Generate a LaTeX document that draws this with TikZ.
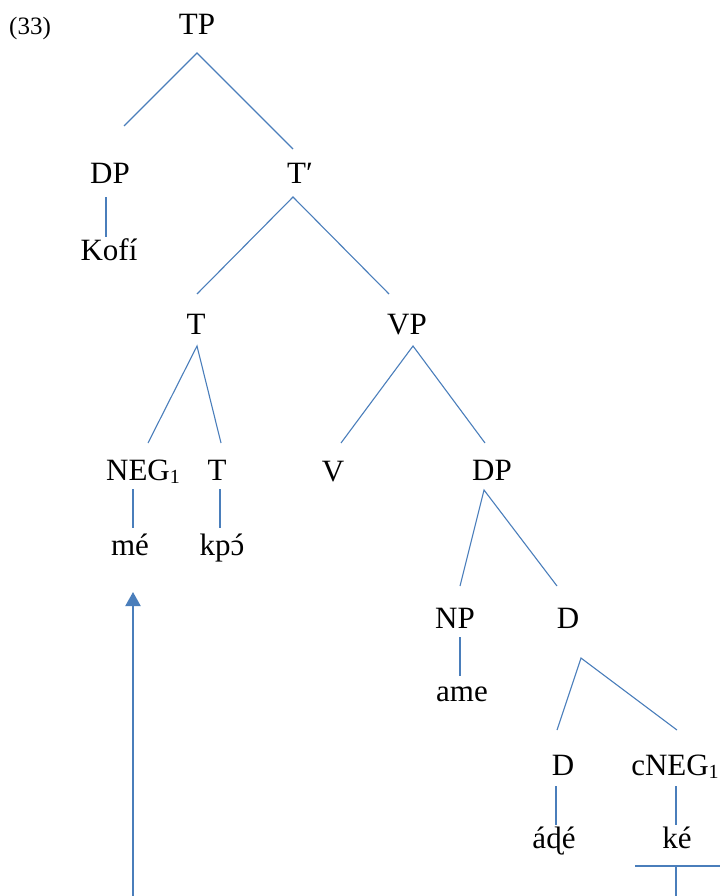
\documentclass[tikz,border=0pt]{standalone}
\usepackage{fontspec}
\setmainfont{Liberation Serif}
\usetikzlibrary{arrows.meta}
\definecolor{treeblue}{HTML}{4A7EBB}
\definecolor{arrowblue}{HTML}{4A7EBB}
\newcommand{\subone}{\raisebox{-0.22ex}{\fontsize{20}{20}\selectfont 1}}
\newcommand{\openoacute}{\ooalign{ɔ\cr\hidewidth\kern0.08em´\hidewidth\cr}}
\begin{document}
\begin{tikzpicture}[x=1pt,y=-1pt,
  lab/.style={anchor=base,inner sep=0pt,font=\fontsize{31}{36}\selectfont},
  exlab/.style={anchor=base,inner sep=0pt,font=\fontsize{25}{30}\selectfont},
  branch/.style={draw=treeblue,line width=1.1pt},
  movearrow/.style={draw=arrowblue,line width=2pt,-{Triangle[width=15pt,length=14pt]}}]
\useasboundingbox (0,0) rectangle (720,896);
% labels
\node[exlab] (ex) at (30,35) {(33)};
\node[lab] (tp) at (197,35) {TP};
\node[lab] (dp1) at (110,184) {DP};
\node[lab] (kofi) at (109,260) {Kofí};
\node[lab] (tbar) at (300,184) {T′};
\node[lab] (t1) at (196,334) {T};
\node[lab] (vp) at (407,334) {VP};
\node[lab] (neg) at (143,480) {NEG\subone};
\node[lab] (t2) at (217,480) {T};
\node[lab] (v) at (333,481) {V};
\node[lab] (dp2) at (492,480) {DP};
\node[lab] (me) at (130,555) {mé};
\node[lab] (kpo) at (222,555) {kp\openoacute};
\node[lab] (np) at (455,628) {NP};
\node[lab] (d1) at (568,628) {D};
\node[lab] (ame) at (462,701) {ame};
\node[lab] (d2) at (563,775) {D};
\node[lab] (cneg) at (675,775) {cNEG\subone};
\node[lab] (ade) at (554,848) {áɖé};
\node[lab] (ke) at (677,848) {ké};
% branch end points
\coordinate (tpA) at (197,53);
\coordinate (tpL) at (124,126);
\coordinate (tpR) at (293,149);
\coordinate (dpA) at (106,197);
\coordinate (dpB) at (106,237);
\coordinate (tbA) at (293,197);
\coordinate (tbL) at (197,294);
\coordinate (tbR) at (389,294);
\coordinate (tA) at (197,346);
\coordinate (tL) at (148,443);
\coordinate (tR) at (221,443);
\coordinate (vpA) at (413,346);
\coordinate (vpL) at (341,443);
\coordinate (vpR) at (485,443);
\coordinate (negA) at (133,489);
\coordinate (negB) at (133,528);
\coordinate (t2A) at (220,489);
\coordinate (t2B) at (220,528);
\coordinate (dp2A) at (484,490);
\coordinate (dp2L) at (460,586);
\coordinate (dp2R) at (557,586);
\coordinate (npA) at (460,637);
\coordinate (npB) at (460,676);
\coordinate (dA) at (581,658);
\coordinate (dL) at (557,730);
\coordinate (dR) at (677,730);
\coordinate (d2A) at (556,786);
\coordinate (d2B) at (556,825);
\coordinate (cnA) at (676,786);
\coordinate (cnB) at (676,825);
\coordinate (barL) at (635,866);
\coordinate (barR) at (720,866);
\coordinate (barM) at (676,866);
\coordinate (barD) at (676,896);
\coordinate (arS) at (133,896);
\coordinate (arT) at (133,592);
% branches
\draw[branch] (tpL) -- (tpA) -- (tpR);
\draw[branch] (dpA) -- (dpB);
\draw[branch] (tbL) -- (tbA) -- (tbR);
\draw[branch] (tL) -- (tA) -- (tR);
\draw[branch] (vpL) -- (vpA) -- (vpR);
\draw[branch] (negA) -- (negB);
\draw[branch] (t2A) -- (t2B);
\draw[branch] (dp2L) -- (dp2A) -- (dp2R);
\draw[branch] (npA) -- (npB);
\draw[branch] (dL) -- (dA) -- (dR);
\draw[branch] (d2A) -- (d2B);
\draw[branch] (cnA) -- (cnB);
\draw[branch] (barL) -- (barR);
\draw[branch] (barM) -- (barD);
% movement arrow
\draw[movearrow] (arS) -- (arT);
\end{tikzpicture}
\end{document}
